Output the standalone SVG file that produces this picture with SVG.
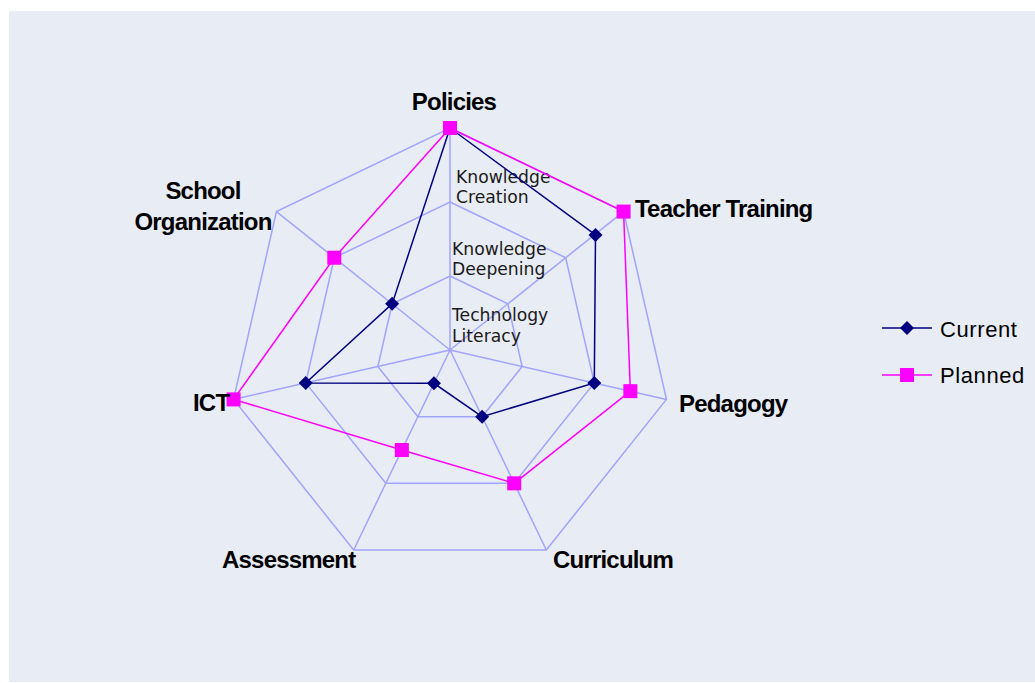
<svg xmlns="http://www.w3.org/2000/svg" width="1035" height="683" viewBox="0 0 1035 683">
<defs>
<style>
.bg{fill:#E8ECF4}
.grid{fill:none;stroke:#A0A4FF;stroke-width:1.5}
.cur{fill:none;stroke:#000080;stroke-width:1.5}
.pln{fill:none;stroke:#FF00FF;stroke-width:1.5}
.axl{font-family:"Liberation Sans",Arial,sans-serif;font-weight:bold;font-size:24px;letter-spacing:-0.8px;fill:#000}
.lvl{font-family:"DejaVu Sans",Verdana,sans-serif;font-size:17.2px;fill:#1a1a1a}
.leg{font-family:"Liberation Sans",Arial,sans-serif;font-size:22px;letter-spacing:0.6px;fill:#000}
</style>
<marker id="dia" viewBox="-8 -8 16 16" markerWidth="16" markerHeight="16" markerUnits="userSpaceOnUse" refX="0" refY="0">
<path d="M0,-7 L7,0 L0,7 L-7,0 Z" fill="#000080"/>
</marker>
<marker id="sq" viewBox="-8 -8 16 16" markerWidth="16" markerHeight="16" markerUnits="userSpaceOnUse" refX="0" refY="0">
<rect x="-7" y="-7" width="14" height="14" fill="#FF00FF"/>
</marker>
</defs>
<rect class="bg" x="9" y="11" width="1026" height="671"/>
<g id="grid">
<polygon class="grid" points="450,276 507.86,303.86 522.14,366.47 482.11,416.67 417.89,416.67 377.86,366.47 392.14,303.86"/>
<polygon class="grid" points="450,202 565.71,257.72 594.29,382.93 514.21,483.34 385.79,483.34 305.71,382.93 334.29,257.72"/>
<polygon class="grid" points="450,128 623.57,211.59 666.43,399.40 546.32,550.02 353.68,550.02 233.57,399.40 276.43,211.59"/>
<path class="grid" d="M450,350 L450,128 M450,350 L623.57,211.59 M450,350 L666.43,399.40 M450,350 L546.32,550.02 M450,350 L353.68,550.02 M450,350 L233.57,399.40 M450,350 L276.43,211.59"/>
</g>
<g id="levels">
<text class="lvl" x="456" y="183">Knowledge</text>
<text class="lvl" x="456" y="203">Creation</text>
<text class="lvl" x="452" y="255">Knowledge</text>
<text class="lvl" x="452" y="275">Deepening</text>
<text class="lvl" x="452" y="321">Technology</text>
<text class="lvl" x="452" y="342">Literacy</text>
</g>
<g id="connectors">
<polygon id="series-current" class="cur" points="450,128 595.5,235 594.29,382.93 482.11,416.67 433.95,383.34 305.71,382.93 392.14,303.86" marker-start="url(#dia)" marker-mid="url(#dia)"/>
<polygon id="series-planned" class="pln" points="450,128 623.57,211.59 630.36,391.17 514.21,483.34 401.84,450.01 233.57,399.40 334.29,257.72" marker-start="url(#sq)" marker-mid="url(#sq)"/>
</g>
<g id="node-policies"><text class="axl" x="454" y="110" text-anchor="middle">Policies</text></g>
<g id="node-teacher-training"><text class="axl" x="635" y="217">Teacher Training</text></g>
<g id="node-pedagogy"><text class="axl" x="679" y="412">Pedagogy</text></g>
<g id="node-curriculum"><text class="axl" x="553" y="568">Curriculum</text></g>
<g id="node-assessment"><text class="axl" x="222" y="568">Assessment</text></g>
<g id="node-ict"><text class="axl" x="193" y="411">ICT</text></g>
<g id="node-school-organization">
<text class="axl" x="203" y="199" text-anchor="middle">School</text>
<text class="axl" x="203" y="230" text-anchor="middle">Organization</text>
</g>
<g id="legend">
<line x1="882" y1="328" x2="932" y2="328" stroke="#000080" stroke-width="1.5"/>
<path d="M907,321 L914,328 L907,335 L900,328 Z" fill="#000080"/>
<text class="leg" x="940" y="337">Current</text>
<line x1="882" y1="375" x2="932" y2="375" stroke="#FF00FF" stroke-width="1.5"/>
<rect x="900" y="368" width="14" height="14" fill="#FF00FF"/>
<text class="leg" x="940" y="383">Planned</text>
</g>
</svg>
